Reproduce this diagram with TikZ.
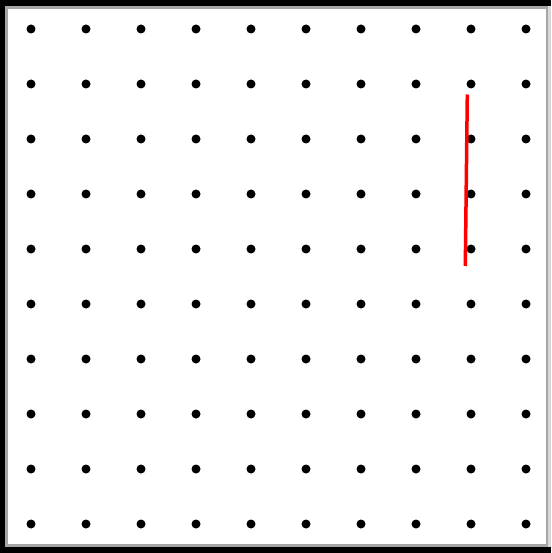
\documentclass[tikz,border=0pt]{standalone}
\usepackage{tikz}
\usetikzlibrary{calc}

\begin{document}
\begin{tikzpicture}[x=1pt, y=-1pt,
  pin/.style={circle, fill=black, inner sep=0pt, minimum size=9pt},
  seg/.style={draw=red, line width=3.5pt}]
  \useasboundingbox (0,0) rectangle (551,553);
  % frame
  \fill[black] (0,0) rectangle (551,553);
  \fill[black!15] (546,6) rectangle (551,547);
  \fill[black!35] (5,6) rectangle (548,547);
  \fill[white] (8,9) rectangle (546,544);
  % dot grid
  \foreach \i in {0,...,9} {
    \foreach \j in {0,...,9} {
      \node[pin] (p\i\j) at ({31+55*\i},{29+55*\j}) {};
    }
  }
  \coordinate (top) at (467.3,94.5);
  \coordinate (bot) at (465.3,266);
  \draw[seg] (top) -- (bot);
\end{tikzpicture}
\end{document}
